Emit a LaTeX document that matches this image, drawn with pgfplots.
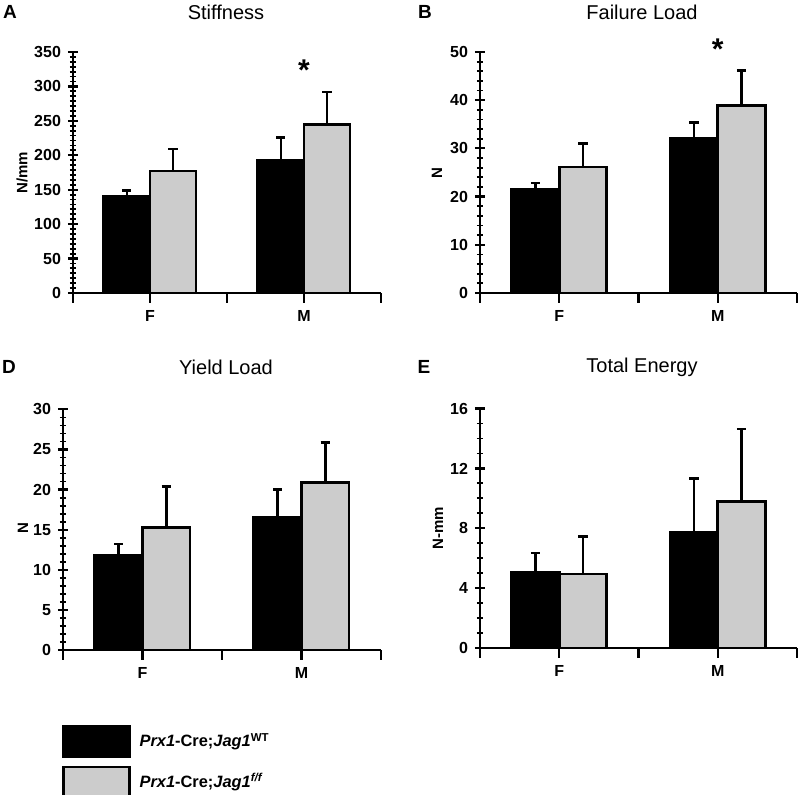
\documentclass[border=0pt]{standalone}
\usepackage{fontspec}
\setmainfont{Liberation Sans}
\usepackage{pgfplots}
\pgfplotsset{compat=1.18}
\definecolor{barg}{RGB}{204,204,204}
\pgfplotsset{
  myax/.style={
    scale only axis,
    axis lines=left,
    axis line style={line width=1.25pt,-},
    xmin=-0.5, xmax=1.5, ymin=0,
    xtick={-0.5,0,0.5,1,1.5},
    xticklabels={,F,,M,},
    /pgf/number format/assume math mode=true,
    ticklabel style={font=\bfseries\fontsize{8}{9}\selectfont},
    tick align=center,
    major tick length=5pt,
    minor tick length=3pt,
    every tick/.style={line width=1.1pt, black},
    minor tick style={line width=0.9pt},
    ybar=0pt, bar width=0.3,
    clip=false,
  },
  eb/.style={line width=1.3pt, draw=black,
    error bars/.cd, y dir=plus, y explicit, error mark=-,
    error bar style={line width=1.3pt, black, solid},
    error mark options={rotate=90, line width=1.3pt, mark size=2.3pt, black, solid}},
}
\begin{document}
\begin{tikzpicture}
\useasboundingbox (0,0) rectangle (400pt,397.5pt);
% panel titles
\node[font=\bfseries\fontsize{9.5}{10}\selectfont] at (5pt,391.5pt) {A};
\node[font=\fontsize{10}{11}\selectfont] at (113pt,391.5pt) {Stiffness};
\node[font=\bfseries\fontsize{9.5}{10}\selectfont] at (212.5pt,391.5pt) {B};
\node[font=\fontsize{10}{11}\selectfont] at (321pt,391.5pt) {Failure Load};
\node[font=\bfseries\fontsize{9.5}{10}\selectfont] at (4.5pt,214pt) {D};
\node[font=\fontsize{10}{11}\selectfont] at (113pt,214pt) {Yield Load};
\node[font=\bfseries\fontsize{9.5}{10}\selectfont] at (212pt,214pt) {E};
\node[font=\fontsize{10}{11}\selectfont] at (321pt,214pt) {Total Energy};
% y labels
\node[font=\bfseries\fontsize{7.5}{8}\selectfont, rotate=90] at (11pt,311pt) {N/mm};
\node[font=\bfseries\fontsize{7.5}{8}\selectfont, rotate=90] at (218.5pt,311pt) {N};
\node[font=\bfseries\fontsize{7.5}{8}\selectfont, rotate=90] at (11.5pt,133.5pt) {N};
\node[font=\bfseries\fontsize{7.5}{8}\selectfont, rotate=90] at (219pt,133.5pt) {N-mm};

% A: Stiffness
\begin{axis}[myax, at={(36.5pt,251pt)}, width=154pt, height=120.5pt,
  ymax=350, ytick={0,50,...,350}, minor y tick num=6]
\addplot[fill=black, eb] coordinates {(0,140) +- (0,9) (1,193) +- (0,33)};
\addplot[fill=barg, eb] coordinates {(0,177) +- (0,32) (1,245) +- (0,47)};
\node[font=\bfseries\fontsize{15}{15}\selectfont] at (axis cs:1,324) {*};
\end{axis}

% B: Failure Load
\begin{axis}[myax, at={(240pt,251pt)}, width=158.5pt, height=120.5pt,
  ymax=50, ytick={0,10,...,50}, minor y tick num=4]
\addplot[fill=black, eb] coordinates {(0,21.6) +- (0,1.2) (1,32.0) +- (0,3.4)};
\addplot[fill=barg, eb] coordinates {(0,26.1) +- (0,4.9) (1,38.9) +- (0,7.3)};
\node[font=\bfseries\fontsize{15}{15}\selectfont] at (axis cs:1,50.6) {*};
\end{axis}

% D: Yield Load
\begin{axis}[myax, at={(31.5pt,72.5pt)}, width=159pt, height=120.3pt,
  ymax=30, ytick={0,5,...,30}, minor y tick num=4,
  every axis plot post/.append style={legend image code/.code={
    \draw[##1, line width=1.1pt] (0pt,-7.5pt) rectangle (33pt,7.5pt);}},
  legend style={at={(axis description cs:0,0)}, anchor=north west,
    xshift=-0.5pt, yshift=-37.5pt, draw=none, fill=none, inner sep=0pt,
    row sep=4pt, font=\bfseries\fontsize{8.2}{9}\selectfont,
    cells={anchor=west}},
  legend cell align=left]
\addplot[fill=black, eb] coordinates {(0,11.8) +- (0,1.4) (1,16.5) +- (0,3.5)};
\addlegendentry{\hspace{2.5pt}\textit{Prx1}-Cre;\textit{Jag1}\textsuperscript{WT}}
\addplot[fill=barg, eb] coordinates {(0,15.3) +- (0,5.1) (1,20.9) +- (0,5.0)};
\addlegendentry{\hspace{2.5pt}\textit{Prx1}-Cre;\textit{Jag1}\textsuperscript{\textit{f/f}}}
\end{axis}

% E: Total Energy
\begin{axis}[myax, at={(240pt,73.5pt)}, width=158.5pt, height=119.7pt,
  ymax=16, ytick={0,4,...,16}, minor y tick num=3]
\addplot[fill=black, eb] coordinates {(0,5.04) +- (0,1.32) (1,7.72) +- (0,3.6)};
\addplot[fill=barg, eb] coordinates {(0,4.95) +- (0,2.5) (1,9.78) +- (0,4.85)};
\end{axis}
\end{tikzpicture}
\end{document}
